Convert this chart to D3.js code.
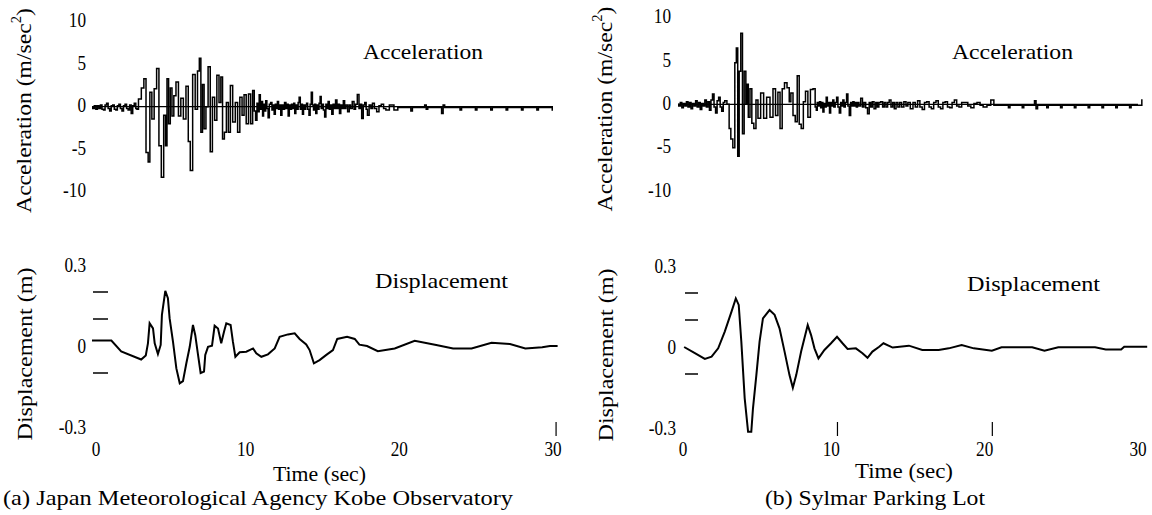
<!DOCTYPE html>
<html><head><meta charset="utf-8">
<script src="https://cdn.jsdelivr.net/npm/d3@7"></script>
<style>
body{margin:0;background:#fff}
</style>
</head><body>
<svg id="c" width="1152" height="515"></svg>
<script>
// ---------------- data ----------------
const accTicks = [10, 5, 0, -5, -10];
const accTickLabels = ["10", "5", "0", "-5", "-10"];
const dispTicks = [0.3, 0, -0.3];
const dispTickLabels = ["0.3", "0", "-0.3"];
const dispDashes = [0.2, 0.1, -0.1];
const timeTicks = [0, 10, 20, 30];
const timeTickLabels = ["0", "10", "20", "30"];
const extraTickA = [30.2];
const extraTickB = [10.4, 20.5];

// (a) Kobe acceleration [time (sec), acceleration (m/sec^2)]
const kobeAcc = [
 [0,0],[0.1,-0.2],[0.2,0.1],[0.3,-0.3],[0.4,0.1],[0.5,-0.2],[0.6,0.2],[0.7,-0.3],[0.8,-0.4],[0.9,0.2],
 [1.0,0.4],[1.1,-0.2],[1.2,-0.5],[1.3,0.1],[1.4,0.2],[1.5,-0.3],[1.6,-0.4],[1.7,0.1],[1.8,0.3],[1.9,-0.2],
 [2.0,-0.5],[2.1,0.1],[2.2,0.3],[2.3,-0.2],[2.4,-0.4],[2.5,0.2],[2.6,-0.8],[2.7,0.1],[2.8,0.4],[2.9,-0.2],[2.95,-0.3],
 [3.10,0.9],[3.32,2.2],[3.43,3.3],[3.6,-5.4],[3.71,-6.5],[3.82,1.7],[3.97,-1.45],[4.12,2.1],[4.29,4.5],[4.42,-4.6],
 [4.6,-8.3],[4.73,-1.0],[4.84,-4.6],[4.92,3.3],[5.05,-2.0],[5.14,2.2],[5.27,-1.1],[5.38,1.3],[5.55,2.9],[5.7,-1.1],
 [5.86,1.0],[6.03,-1.45],[6.2,2.4],[6.33,-4.1],[6.46,-7.5],[6.64,3.8],[6.79,-0.3],[6.94,4.2],[7.03,5.7],[7.14,-3.0],
 [7.24,2.6],[7.35,-2.6],[7.48,0],[7.63,4.7],[7.76,-5.3],[7.91,1.1],[8.05,-1.6],[8.2,3.7],[8.33,0.5],[8.44,3.5],
 [8.55,-3.8],[8.68,-3.0],[8.81,0.5],[8.94,-3.0],[9.07,2.5],[9.24,-1.8],[9.41,0.5],[9.54,-3.0],[9.7,1.1],[9.83,-1.0],
 [9.96,1.4],[10.11,-2.0],[10.26,1.5],[10.39,-2.0],[10.52,1.9],
 [10.6,-0.5],[10.69,-1.6],[10.78,0.4],[10.85,-0.6],[10.91,1.4],[11.0,-0.3],[11.07,0.6],[11.13,-1.1],[11.2,0.3],[11.27,-0.5],
 [11.34,0.7],[11.42,-0.2],[11.5,-1.3],[11.58,0.3],[11.67,0.5],[11.75,-0.4],[11.82,0.2],[11.89,-0.9],[11.97,0.3],[12.03,-0.2],
 [12.1,0.6],[12.18,-0.3],[12.25,0.2],[12.32,-1.0],[12.4,0.2],[12.48,-0.3],[12.58,0.5],[12.66,-0.2],[12.73,0.3],[12.8,-1.1],
 [12.88,0.2],[12.95,-0.3],[13.02,0.3],[13.1,-0.2],[13.16,0.4],[13.23,-0.8],[13.3,0.2],[13.38,-0.3],[13.45,0.5],[13.51,1.1],
 [13.6,-0.3],[13.66,0.3],[13.73,-0.9],[13.8,0.2],[13.88,-0.3],[13.94,0.2],[13.99,0.4],[14.08,-0.3],[14.16,-1.0],[14.23,0.3],
 [14.31,1.7],[14.38,0.2],[14.45,-0.4],[14.52,0.3],[14.6,-0.8],[14.67,0.2],[14.74,-0.3],[14.81,0.4],[14.88,1.2],[14.95,-0.2],
 [15.02,0.3],[15.1,-0.4],[15.18,-1.2],[15.26,0.3],[15.33,-0.2],[15.4,0.6],[15.48,-0.3],[15.56,0.2],[15.65,-0.9],[15.73,0.3],
 [15.8,-0.2],[15.9,0.8],[15.98,-0.2],[16.06,0.3],[16.15,-0.8],[16.23,0.2],[16.31,-0.2],[16.4,0.7],[16.48,-0.2],[16.57,0.2],
 [16.7,-0.6],[16.78,0.2],[16.87,-0.2],[17.0,0.6],[17.1,-0.3],[17.2,0.3],[17.33,1.45],[17.42,-0.2],[17.5,0.3],[17.6,-1.4],
 [17.7,0.2],[17.8,0.5],[17.88,-0.3],[17.97,-1.0],[18.1,0.2],[18.2,-0.2],[18.3,0.4],[18.45,-0.2],[18.6,-0.6],[18.75,0.1],
 [18.9,0.3],[19.05,-0.2],[19.2,-0.4],[19.5,0.2],[19.8,-0.4],[20.0,-0.1],[20.7,-0.1],[20.8,-0.5],[20.9,-0.1],[21.6,-0.1],
 [21.7,0.2],[21.8,-0.3],[21.9,-0.1],[22.7,-0.1],[22.8,-0.8],[22.9,0.2],[23.0,-0.1],[23.9,-0.1],[24.0,-0.4],[24.1,-0.1],
 [24.9,-0.1],[25.0,-0.4],[25.1,-0.1],[25.9,-0.1],[26.0,-0.4],[26.1,-0.1],[26.9,-0.1],[27.0,-0.4],[27.1,-0.1],[27.9,-0.1],
 [28.0,-0.4],[28.1,-0.1],[28.9,-0.1],[29.0,-0.4],[29.1,-0.1],[29.9,-0.1],[30.0,-0.4]
];

// (a) Kobe displacement [time (sec), displacement (m)]
const kobeDisp = [
 [0,0.02],[1.26,0.02],[1.9,-0.02],[3.2,-0.05],[3.5,-0.035],[3.64,0.01],[3.75,0.084],[3.97,0.065],[4.08,0.01],[4.29,-0.03],
 [4.47,0.004],[4.55,0.115],[4.77,0.204],[4.94,0.177],[5.05,0.103],[5.27,0.016],[5.49,-0.083],[5.71,-0.138],[5.92,-0.13],[6.14,-0.064],
 [6.36,-0.003],[6.57,0.078],[6.72,0.04],[6.9,-0.033],[7.07,-0.1],[7.29,-0.095],[7.37,-0.033],[7.55,-0.003],[7.81,0.001],[7.98,0.075],
 [8.2,0.065],[8.41,0.01],[8.59,0.053],[8.74,0.084],[9.02,0.078],[9.17,0.016],[9.33,-0.04],[9.61,-0.023],[10.04,-0.021],[10.48,-0.009],
 [10.69,-0.027],[11.02,-0.04],[11.45,-0.031],[11.89,-0.009],[12.21,0.034],[12.75,0.043],[13.19,0.047],[13.51,0.026],[13.94,0.006],[14.16,-0.015],
 [14.44,-0.064],[14.81,-0.052],[15.25,-0.033],[15.68,-0.015],[15.96,0.026],[16.6,0.034],[17.1,0.026],[17.4,0.005],[17.9,0.0],[18.6,-0.019],
 [19.7,-0.009],[21.0,0.019],[22.4,0.004],[23.5,-0.009],[24.7,-0.009],[26.0,0.012],[27.2,0.007],[28.2,-0.009],[29.3,-0.005],[29.8,0.0],[30.3,0.0]
];

// (b) Sylmar acceleration [time (sec), acceleration (m/sec^2)]
const sylAcc = [
 [0,0],[0.1,-0.2],[0.2,0.2],[0.3,-0.4],[0.4,0.1],[0.5,-0.2],[0.6,0.3],[0.7,-0.3],[0.8,0.2],[0.9,-0.5],
 [1.0,0.1],[1.1,-0.2],[1.2,0.4],[1.3,-0.3],[1.4,0.2],[1.5,-0.6],[1.6,0.1],[1.7,-0.2],[1.8,0.5],[1.9,-0.3],
 [2.0,0.3],[2.1,-0.7],[2.2,0.5],[2.3,1.2],[2.4,-0.3],[2.5,-1.0],[2.6,0.4],[2.7,0.8],[2.8,-0.3],[2.9,-0.8],[3.0,0.2],[3.1,0.4],
 [3.28,0],[3.39,-2.8],[3.5,-4.0],[3.65,-5.0],[3.76,4.8],[3.85,6.5],[3.94,-6.0],[4.04,3.8],[4.15,8.2],[4.26,-3.4],
 [4.37,3.8],[4.48,0],[4.54,2.3],[4.63,-1.5],[4.76,1.8],[4.87,-2.2],[5.02,-2.8],[5.15,0.5],[5.28,-1.6],[5.5,1.3],
 [5.67,-1.6],[5.89,0.8],[6.11,-1.5],[6.28,1.8],[6.44,-1.3],[6.59,1.4],[6.72,-2.8],[6.87,1.8],[7.02,2.5],[7.2,1.9],
 [7.31,0.3],[7.41,1.3],[7.59,-1.3],[7.7,-2.0],[7.85,3.3],[7.96,-2.3],[8.11,-2.8],[8.24,0.3],[8.39,1.5],[8.55,-1.5],
 [8.72,1.7],[8.89,1.8],
 [9.0,-0.3],[9.04,-0.7],[9.12,0.2],[9.2,-0.2],[9.26,0.3],[9.35,-0.4],[9.42,0.2],[9.48,-0.9],[9.56,0.1],[9.63,-0.3],
 [9.7,0.8],[9.78,-0.2],[9.85,0.2],[9.91,-1.0],[10.0,0.2],[10.06,-0.2],[10.13,0.5],[10.2,-0.3],[10.3,0.2],[10.39,0.8],
 [10.47,-0.3],[10.57,-1.0],[10.65,0.2],[10.72,-0.2],[10.78,0.5],[10.87,-0.3],[10.95,0.2],[11.04,1.2],[11.12,-0.2],[11.22,-1.3],
 [11.3,0.2],[11.37,-0.2],[11.44,0.3],[11.52,-0.2],[11.6,0.2],[11.66,-0.3],[11.75,0.2],[11.85,-0.2],[11.98,0.7],[12.08,-0.3],
 [12.18,0.2],[12.3,-0.4],[12.42,-1.1],[12.52,0.2],[12.62,-0.3],[12.72,0.3],[12.85,-0.5],[12.95,0.2],[13.05,-0.3],[13.15,0.2],
 [13.29,0.3],[13.4,-0.3],[13.5,0.2],[13.62,-0.3],[13.72,0.2],[13.83,0.5],[13.95,-0.3],[14.05,0.2],[14.16,-0.5],[14.28,0.2],
 [14.4,-0.3],[14.52,0.2],[14.65,-0.3],[14.81,0.3],[14.93,-0.2],[15.05,0.2],[15.25,-0.5],[15.4,0.2],[15.55,-0.3],[15.7,0.4],
 [15.85,-0.3],[16.0,-0.6],[16.15,0.2],[16.3,0.3],[16.45,-0.3],[16.6,-0.5],[16.75,0.2],[16.9,0.4],[17.05,-0.3],[17.2,-0.5],
 [17.35,0.2],[17.5,0.3],[17.65,-0.3],[17.8,-0.4],[17.95,0.2],[18.1,0.5],[18.25,-0.2],[18.4,-0.3],[18.6,0.2],[18.8,0.2],
 [19.0,-0.2],[19.2,-0.4],[19.4,0.1],[19.6,0.2],[19.8,-0.1],[20.0,-0.3],[20.3,-0.1],[20.5,0.5],[20.7,-0.1],[21.5,-0.1],
 [21.6,-0.4],[21.7,-0.1],[22.4,-0.1],[22.5,-0.4],[22.6,-0.1],[23.2,-0.1],[23.3,0.4],[23.4,-0.5],[23.5,-0.1],[24.0,-0.1],
 [24.1,-0.4],[24.2,-0.1],[24.9,-0.1],[25.0,-0.4],[25.1,-0.1],[25.8,-0.1],[25.9,-0.4],[26.0,-0.1],[26.7,-0.1],[26.8,-0.4],
 [26.9,-0.1],[27.6,-0.1],[27.7,-0.4],[27.8,-0.1],[28.5,-0.1],[28.6,-0.4],[28.7,-0.1],[29.4,-0.1],[29.5,-0.4],[29.6,-0.1],
 [30.2,-0.1],[30.3,0.5]
];

// (b) Sylmar displacement [time (sec), displacement (m)]
const sylDisp = [
 [0.4,0.0],[1.1,-0.023],[1.75,-0.044],[2.19,-0.036],[2.62,-0.005],[3.05,0.057],[3.49,0.131],[3.77,0.18],[3.96,0.156],[4.13,0.02],
 [4.35,-0.19],[4.57,-0.314],[4.78,-0.314],[4.89,-0.227],[5.11,-0.104],[5.32,0.02],[5.54,0.106],[5.97,0.137],[6.3,0.119],[6.62,0.069],
 [6.95,-0.017],[7.27,-0.104],[7.49,-0.151],[7.71,-0.104],[8.03,-0.017],[8.46,0.081],[8.68,0.044],[8.9,-0.005],[9.16,-0.042],[9.55,-0.011],
 [9.98,0.014],[10.37,0.038],[10.73,0.014],[11.06,-0.007],[11.6,-0.005],[12.03,-0.023],[12.36,-0.04],[12.68,-0.017],[13.12,0.001],[13.4,0.014],
 [14.0,-0.002],[15.06,0.005],[15.93,-0.011],[17.0,-0.011],[17.66,-0.005],[18.5,0.007],[19.29,-0.005],[20.47,-0.014],[21.1,-0.001],[23.1,-0.001],
 [23.9,-0.014],[24.8,-0.001],[27.2,-0.001],[27.9,-0.009],[28.9,-0.009],[29.1,0.001],[30.6,0.001]
];

const captionA = "(a) Japan Meteorological Agency Kobe Observatory";
const captionB = "(b) Sylmar Parking Lot";

// ---------------- font selection ----------------
const svg = d3.select("#c");
const probe = svg.append("text").attr("font-size", 100).attr("x", -2000).attr("y", -2000);
function measure(fam, s) { probe.style("font-family", fam).text(s); return probe.node().getComputedTextLength(); }
const candidates = ["Liberation Serif", "Tinos", "Times New Roman", "DejaVu Serif Condensed", "DejaVu Serif", "Noto Serif"];
let FONT = "serif";
for (const f of candidates) {
  if (measure(`'${f}', monospace`, "Acceleration Wim") !== measure("monospace", "Acceleration Wim")) { FONT = `'${f}', serif`; break; }
}
probe.remove();

// squeeze a text element horizontally to a target width (keeps glyph height)
function fitWidth(sel, w) {
  const n = sel.node().getComputedTextLength();
  sel.attr("textLength", Math.min(w, n * 1.15)).attr("lengthAdjust", "spacingAndGlyphs");
  return sel;
}
function squeeze(sel, k) {
  const n = sel.node().getComputedTextLength();
  sel.attr("textLength", n * k).attr("lengthAdjust", "spacingAndGlyphs");
}

// ---------------- layout ----------------
const panels = [
  { acc: kobeAcc, disp: kobeDisp, extra: extraTickA,
    x: [92, 553], accY: [191.7, 21.7], dispY: [427, 265],
    tickRight: 86, dispTickRight: 86, dashX: [93, 108], ylabX: 31,
    accLabY: 110.5, dispLabY: 354,
    accTitle: [363, 59, 120], dispTitle: [375, 288, 133], timeLab: [273, 481, 93],
    caption: [captionA, 3, 505, 510], zeroDx: 4 },
  { acc: sylAcc, disp: sylDisp, extra: extraTickB,
    x: [678, 1138], accY: [191, 17.6], dispY: [428, 266],
    tickRight: 671, dispTickRight: 676, dashX: [685, 698], ylabX: 612,
    accLabY: 109, dispLabY: 355,
    accTitle: [952, 59, 121], dispTitle: [967, 291, 133], timeLab: [855, 478, 98],
    caption: [captionB, 765, 505, 220], zeroDx: 5 }
];

const TICK = 20, TITLE = 22, CAP = 21.5, YLAB = 22;
const tickSqueeze = 0.86;

panels.forEach(p => {
  const x = d3.scaleLinear().domain([0, 30]).range(p.x);
  const ya = d3.scaleLinear().domain([-10, 10]).range(p.accY);
  const yd = d3.scaleLinear().domain([-0.3, 0.3]).range(p.dispY);
  const g = svg.append("g").style("font-family", FONT).attr("fill", "#000");

  // acceleration zero line
  g.append("line").attr("x1", x(0)).attr("x2", x(30))
    .attr("y1", ya(0)).attr("y2", ya(0))
    .attr("stroke", "#000").attr("stroke-width", 1.2);

  // acceleration trace
  g.append("path").datum(p.acc)
    .attr("d", d3.line().curve(d3.curveStep).x(d => x(d[0])).y(d => ya(d[1])))
    .attr("fill", "none").attr("stroke", "#000").attr("stroke-width", 1.5);

  // displacement trace
  g.append("path").datum(p.disp)
    .attr("d", d3.line().x(d => x(d[0])).y(d => yd(d[1])))
    .attr("fill", "none").attr("stroke", "#000").attr("stroke-width", 2);

  // acceleration tick labels
  g.selectAll(".at").data(accTicks).join("text")
    .attr("x", p.tickRight).attr("y", d => ya(d) + 5.7)
    .attr("text-anchor", "end").attr("font-size", TICK)
    .text((d, i) => accTickLabels[i])
    .each(function () { squeeze(d3.select(this), tickSqueeze); });

  // displacement tick labels
  g.selectAll(".dt").data(dispTicks).join("text")
    .attr("x", p.dispTickRight).attr("y", d => yd(d) + 6.5)
    .attr("text-anchor", "end").attr("font-size", TICK)
    .text((d, i) => dispTickLabels[i])
    .each(function () { squeeze(d3.select(this), tickSqueeze); });

  // displacement dashes
  g.selectAll(".dd").data(dispDashes).join("line")
    .attr("x1", p.dashX[0]).attr("x2", p.dashX[1])
    .attr("y1", d => yd(d)).attr("y2", d => yd(d))
    .attr("stroke", "#000").attr("stroke-width", 1.5);

  // time tick labels
  g.selectAll(".tt").data(timeTicks).join("text")
    .attr("x", d => x(d) + (d === 0 ? p.zeroDx : 0)).attr("y", 455.5)
    .attr("text-anchor", "middle").attr("font-size", TICK)
    .text((d, i) => timeTickLabels[i])
    .each(function () { squeeze(d3.select(this), tickSqueeze); });

  // stray tick marks
  g.selectAll(".xt").data(p.extra).join("line")
    .attr("x1", d => x(d)).attr("x2", d => x(d))
    .attr("y1", 422).attr("y2", 436)
    .attr("stroke", "#000").attr("stroke-width", 1.2);

  // titles
  fitWidth(g.append("text").attr("x", p.accTitle[0]).attr("y", p.accTitle[1])
    .attr("font-size", TITLE).text("Acceleration"), p.accTitle[2]);
  fitWidth(g.append("text").attr("x", p.dispTitle[0]).attr("y", p.dispTitle[1])
    .attr("font-size", TITLE).text("Displacement"), p.dispTitle[2]);
  fitWidth(g.append("text").attr("x", p.timeLab[0]).attr("y", p.timeLab[1])
    .attr("font-size", TITLE).text("Time (sec)"), p.timeLab[2]);
  fitWidth(g.append("text").attr("x", p.caption[1]).attr("y", p.caption[2])
    .attr("font-size", CAP).text(p.caption[0]), p.caption[3]);

  // rotated y labels (squeezed along the text direction)
  const al = g.append("text").attr("text-anchor", "middle").attr("font-size", YLAB);
  al.append("tspan").text("Acceleration (m/sec");
  al.append("tspan").attr("font-size", YLAB * 0.62).attr("dy", -10).text("2");
  al.append("tspan").attr("dy", 10).text(")");
  const ka = 205 / al.node().getComputedTextLength();
  al.attr("transform", `translate(${p.ylabX},${p.accLabY}) rotate(-90) scale(${Math.min(ka, 1.1)},1)`);

  const dl = g.append("text").attr("text-anchor", "middle").attr("font-size", YLAB)
    .text("Displacement (m)");
  const kd = 173 / dl.node().getComputedTextLength();
  dl.attr("transform", `translate(${p.ylabX + 1},${p.dispLabY}) rotate(-90) scale(${Math.min(kd, 1.1)},1)`);
});
</script>
</body></html>
